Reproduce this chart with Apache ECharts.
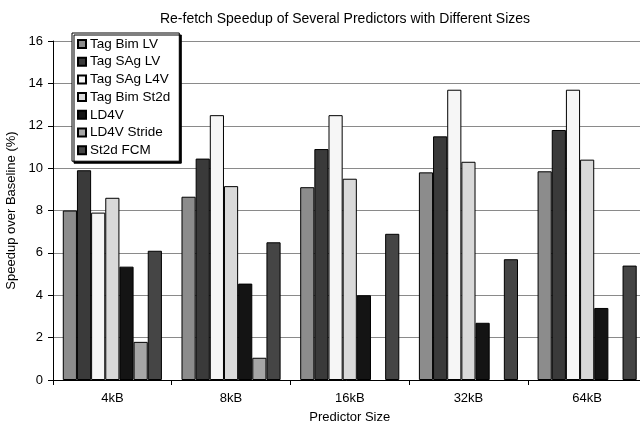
<!DOCTYPE html>
<html>
<head>
<meta charset="utf-8">
<script src="https://cdn.jsdelivr.net/npm/echarts@6/dist/echarts.min.js"></script>
<style>
html,body{margin:0;padding:0;background:#fff;}
#chart{width:640px;height:423px;}
</style>
</head>
<body>
<div id="chart"></div>
<script>
var categories = ['4kB', '8kB', '16kB', '32kB', '64kB'];
var seriesNames = ['Tag Bim LV', 'Tag SAg LV', 'Tag SAg L4V', 'Tag Bim St2d', 'LD4V', 'LD4V Stride', 'St2d FCM'];
var tagBimLV    = [8.0, 8.65, 9.1, 9.8, 9.85];
var tagSAgLV    = [9.9, 10.45, 10.9, 11.5, 11.8];
var tagSAgL4V   = [7.9, 12.5, 12.5, 13.7, 13.7];
var tagBimSt2d  = [8.6, 9.15, 9.5, 10.3, 10.4];
var ld4v        = [5.35, 4.55, 4.0, 2.7, 3.4];
var ld4vStride  = [1.8, 1.05, null, null, null];
var st2dFCM     = [6.1, 6.5, 6.9, 5.7, 5.4];
var yTicks = [0, 2, 4, 6, 8, 10, 12, 14, 16];

var values = [tagBimLV, tagSAgLV, tagSAgL4V, tagBimSt2d, ld4v, ld4vStride, st2dFCM];
var colors = ['#8c8c8c', '#3a3a3a', '#f6f6f6', '#d9d9d9', '#141414', '#a6a6a6', '#454545'];
var FONT = 'Liberation Sans, Arial, Helvetica, sans-serif';

var chart = echarts.init(document.getElementById('chart'));
chart.setOption({
  animation: false,
  backgroundColor: '#fff',
  title: {
    text: 'Re-fetch Speedup of Several Predictors with Different Sizes',
    left: 340, textAlign: 'center', top: 7,
    textStyle: {fontFamily: FONT, fontSize: 14, fontWeight: 'normal', color: '#000'}
  },
  legend: {
    orient: 'vertical',
    left: 72, top: 33,
    data: seriesNames,
    itemWidth: 8, itemHeight: 8, itemGap: 3.7,
    padding: [4, 9, 4, 5],
    backgroundColor: '#fff',
    borderColor: '#000', borderWidth: 1,
    shadowColor: '#000', shadowOffsetX: 2, shadowOffsetY: 2, shadowBlur: 0,
    textStyle: {fontFamily: FONT, fontSize: 13.5, color: '#000', padding: [0, 0, 0, -1]},
    icon: 'rect'
  },
  grid: {left: 53, right: -6.5, top: 41, bottom: 43, containLabel: false, outerBoundsMode: 'none'},
  xAxis: {
    type: 'category',
    data: categories,
    name: 'Predictor Size',
    nameLocation: 'middle', nameGap: 31,
    nameTextStyle: {fontFamily: FONT, fontSize: 13, color: '#000'},
    axisLine: {lineStyle: {color: '#000', width: 1}},
    axisTick: {show: true, length: 5, lineStyle: {color: '#000'}},
    axisLabel: {fontFamily: FONT, fontSize: 13, color: '#000', margin: 12},
    splitLine: {show: false}
  },
  yAxis: {
    type: 'value',
    min: yTicks[0], max: yTicks[yTicks.length - 1], interval: 2,
    name: 'Speedup over Baseline (%)',
    nameLocation: 'middle', nameGap: 30, nameRotate: 90,
    nameTextStyle: {fontFamily: FONT, fontSize: 13, color: '#000'},
    axisLine: {show: true, lineStyle: {color: '#000', width: 1}},
    axisTick: {show: true, length: 5, lineStyle: {color: '#000'}},
    axisLabel: {fontFamily: FONT, fontSize: 13, color: '#000', margin: 10},
    splitLine: {show: true, lineStyle: {color: '#8a8a8a', width: 1}}
  },
  series: seriesNames.map(function (n, i) {
    return {
      name: n,
      type: 'bar',
      data: values[i],
      barGap: '0%',
      barCategoryGap: '16.5%',
      itemStyle: {color: colors[i], borderColor: '#000', borderWidth: 1}
    };
  })
});
</script>
</body>
</html>
